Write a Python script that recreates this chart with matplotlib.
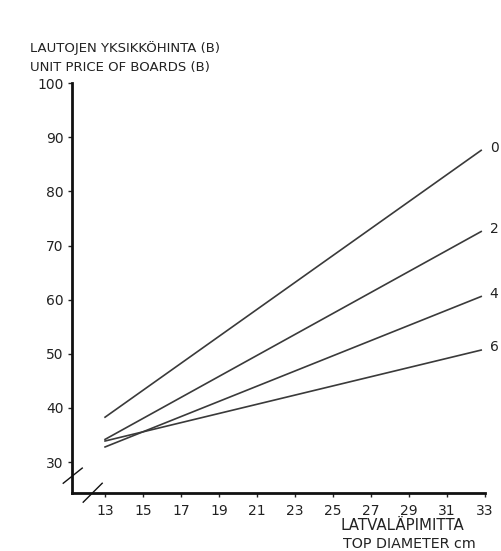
import matplotlib
matplotlib.use("Agg")
import matplotlib.pyplot as plt

# top diameter (cm) at start / end of each line
diam = [13, 32.8]
price_0 = [38.3, 87.6]
price_2 = [34.2, 72.6]
price_4 = [32.8, 60.6]
price_6 = [33.9, 50.7]
series = [("0", price_0), ("2", price_2), ("4", price_4), ("6", price_6)]

xticks = [13, 15, 17, 19, 21, 23, 25, 27, 29, 31, 33]
yticks = [30, 40, 50, 60, 70, 80, 90, 100]

plt.rcParams['font.family'] = ['DejaVu Sans']
fig = plt.figure(figsize=(5.01, 5.51), dpi=100)
ax = fig.add_axes([0.1437, 0.1053, 0.968 - 0.1437, 0.849 - 0.1053])

for name, vals in series:
    ax.plot(diam, vals, color='#3a3a3a', lw=1.2)
    ax.text(diam[-1] + 0.45, vals[-1] + 0.5, name, fontsize=10, color='#222',
            ha='left', va='center', clip_on=False)

ax.set_xlim(11.26, 33)
ax.set_ylim(24.3, 100)
ax.set_xticks(xticks)
ax.set_yticks(yticks)
ax.tick_params(direction='out', length=3, width=1, labelsize=10, colors='#222')
ax.tick_params(axis='x', pad=5)
ax.tick_params(axis='y', pad=3)
for s in ['top', 'right']:
    ax.spines[s].set_visible(False)
for s in ['left', 'bottom']:
    ax.spines[s].set_linewidth(2)
    ax.spines[s].set_color('#111')

# axis break marks
ax.plot([10.8, 11.8], [26.1, 28.9], color='#111', lw=1, clip_on=False)
ax.plot([11.85, 12.85], [22.6, 26.1], color='#111', lw=1, clip_on=False)

fig.text(0.06, 0.912, "LAUTOJEN YKSIKKÖHINTA (B)", fontsize=9.5, color='#222',
         va='center')
fig.text(0.06, 0.878, "UNIT PRICE OF BOARDS (B)", fontsize=9.5, color='#222',
         va='center')
fig.text(0.68, 0.046, "LATVALÄPIMITTA", fontsize=10.8, color='#222', va='center')
fig.text(0.685, 0.013, "TOP DIAMETER cm", fontsize=10.3, color='#222', va='center')

fig.savefig("out.png", dpi=100)
